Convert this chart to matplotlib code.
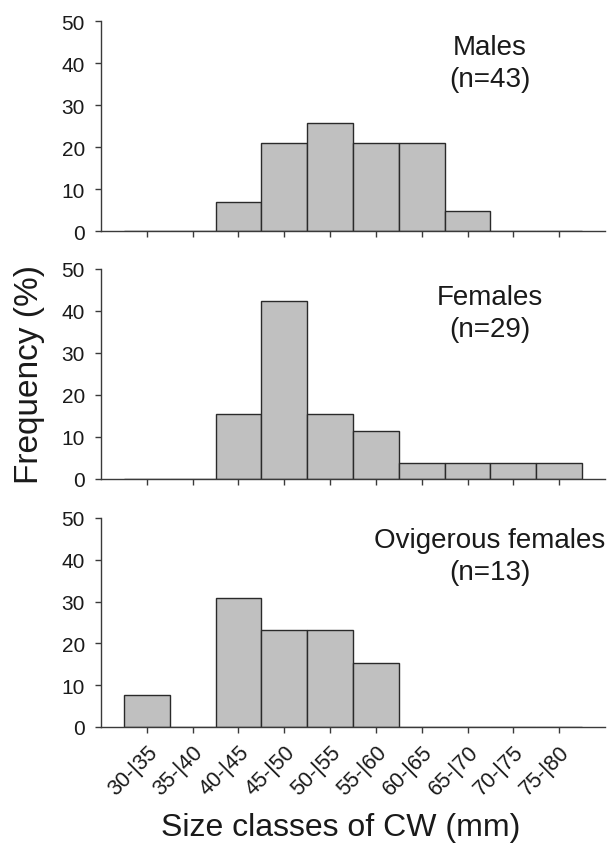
import numpy as np
import matplotlib
matplotlib.use("Agg")
import matplotlib.pyplot as plt

plt.rcParams["font.family"] = ["Liberation Sans", "DejaVu Sans"]

classes = ["30-|35", "35-|40", "40-|45", "45-|50", "50-|55",
           "55-|60", "60-|65", "65-|70", "70-|75", "75-|80"]
males = [0, 0, 7.0, 20.9, 25.6, 20.9, 20.9, 4.65, 0, 0]
females = [0, 0, 15.4, 42.3, 15.4, 11.5, 3.85, 3.85, 3.85, 3.85]
ovigerous = [7.7, 0, 30.8, 23.1, 23.1, 15.4, 0, 0, 0, 0]
panel_labels = ["Males\n(n=43)", "Females\n(n=29)", "Ovigerous females\n(n=13)"]
panel_series = [males, females, ovigerous]

W, H = 611, 854
fig = plt.figure(figsize=(W / 100, H / 100), dpi=100)
# panel boxes in pixels: (top, bottom)
boxes = [(22, 232), (270, 480), (519, 728)]
label_tops = [0.94, 0.93, 0.958]
left, right = 101, 605
x = np.arange(len(classes))
spine_c = "#3a3a3a"

for i, ((top, bot), vals, lab) in enumerate(zip(boxes, panel_series, panel_labels)):
    ax = fig.add_axes([left / W, 1 - bot / H, (right - left) / W, (bot - top) / H])
    ax.bar(x, vals, width=1.0, color="#c0c0c0", edgecolor="#2a2a2a", linewidth=1.0)
    ax.set_xlim(-1, 10)
    ax.set_ylim(0, 50)
    ax.set_yticks([0, 10, 20, 30, 40, 50])
    ax.set_xticks(x)
    for s in ("top", "right"):
        ax.spines[s].set_visible(False)
    for s in ("left", "bottom"):
        ax.spines[s].set_color(spine_c)
        ax.spines[s].set_linewidth(1.0)
    ax.tick_params(axis="both", direction="out", length=4.5, width=1.0,
                   color=spine_c, labelsize=15, labelcolor="#1a1a1a")
    ax.tick_params(axis="y", pad=7)
    if i < 2:
        ax.set_xticklabels([])
    else:
        ax.set_xticklabels(classes, rotation=45, ha="right", va="top",
                           rotation_mode="anchor", fontsize=15.5)
        ax.tick_params(axis="x", pad=6)
    ax.text(0.772, label_tops[i], lab, transform=ax.transAxes, ha="center",
            va="top", fontsize=20, color="#1a1a1a", linespacing=1.3)

fig.text(30 / W, 1 - 375 / H, "Frequency (%)", rotation=90, ha="center",
         va="center", fontsize=24, color="#1a1a1a")
fig.text(341 / W, 1 - 828 / H, "Size classes of CW (mm)", ha="center",
         va="center", fontsize=23, color="#1a1a1a")

fig.savefig("out.png", dpi=100)
